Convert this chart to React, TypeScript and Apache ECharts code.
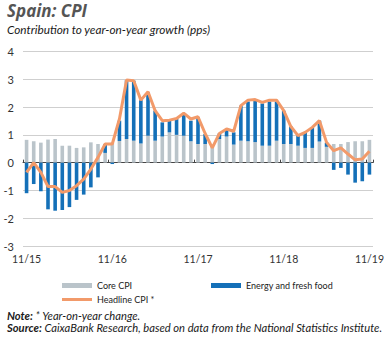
import React, { useEffect, useRef } from "react";
import * as echarts from "echarts";

const months = [
  "11/15","12/15","01/16","02/16","03/16","04/16","05/16","06/16","07/16","08/16","09/16","10/16",
  "11/16","12/16","01/17","02/17","03/17","04/17","05/17","06/17","07/17","08/17","09/17","10/17",
  "11/17","12/17","01/18","02/18","03/18","04/18","05/18","06/18","07/18","08/18","09/18","10/18",
  "11/18","12/18","01/19","02/19","03/19","04/19","05/19","06/19","07/19","08/19","09/19","10/19",
  "11/19",
];

const coreCPI = [
  0.82, 0.77, 0.72, 0.83, 0.85, 0.61, 0.61, 0.53, 0.55, 0.73, 0.67, 0.35,
  0.72, 0.78, 0.85, 0.79, 0.69, 0.97, 0.79, 0.94, 1.09, 1.0, 0.97, 0.77,
  0.67, 0.67, 0.57, 0.85, 0.94, 0.65, 0.79, 0.77, 0.74, 0.61, 0.61, 0.79,
  0.67, 0.67, 0.61, 0.53, 0.53, 0.76, 0.57, 0.67, 0.67, 0.74, 0.77, 0.77,
  0.82,
];

const energyFood = [
  -1.1, -0.77, -1.03, -1.68, -1.73, -1.7, -1.6, -1.34, -1.15, -0.89, -0.53, 0.32,
  -0.05, 0.73, 2.12, 2.16, 1.56, 1.56, 1.08, 0.51, 0.42, 0.57, 0.78, 0.74,
  0.96, 0.36, -0.05, 0.2, 0.27, 0.44, 1.26, 1.43, 1.49, 1.52, 1.59, 1.41,
  1.2, 0.63, 0.39, 0.56, 0.74, 0.75, 0.15, -0.26, -0.19, -0.43, -0.72, -0.67,
  -0.43,
];

const headline = [
  -0.35, 0.0, -0.35, -0.86, -0.86, -1.07, -1.0, -0.83, -0.59, -0.23, 0.19, 0.67,
  0.67, 1.57, 2.97, 2.95, 2.25, 2.55, 1.87, 1.51, 1.53, 1.59, 1.78, 1.57,
  1.65, 1.05, 0.53, 1.05, 1.21, 1.13, 2.05, 2.25, 2.27, 2.17, 2.25, 2.25,
  1.87, 1.3, 0.97, 1.09, 1.27, 1.51, 0.73, 0.43, 0.53, 0.31, 0.1, 0.13,
  0.41,
];

const yMin = -3;
const yMax = 4;

const FONT = "Lato";

export default function App() {
  const ref = useRef<HTMLDivElement>(null);
  useEffect(() => {
    if (!ref.current) return;
    const chart = echarts.init(ref.current, undefined, { renderer: "svg" });
    const labelFmt = (v: string, i: number) => (i % 12 === 0 ? v : "");
    const legendText = { color: "#222", fontSize: 9, fontFamily: FONT };
    chart.setOption({
      animation: false,
      backgroundColor: "#ffffff",
      textStyle: { fontFamily: FONT },
      grid: { left: 23, right: 18, top: 51.5, bottom: 92, containLabel: false },
      xAxis: [
        {
          type: "category",
          data: months,
          boundaryGap: true,
          position: "bottom",
          axisLine: { show: false, onZero: false },
          axisTick: { show: false },
          axisLabel: {
            interval: 11,
            color: "#333",
            fontSize: 10.5,
            fontFamily: FONT,
            margin: 7,
            formatter: labelFmt,
          },
          splitLine: { show: false },
        },
        {
          type: "category",
          data: months,
          boundaryGap: true,
          position: "bottom",
          axisLine: { show: true, onZero: true, lineStyle: { color: "#444", width: 1 } },
          axisTick: { show: true, inside: true, interval: 11, length: 3, lineStyle: { color: "#444" } },
          axisLabel: { show: false },
          splitLine: { show: false },
        },
      ],
      yAxis: {
        type: "value",
        min: yMin,
        max: yMax,
        interval: 1,
        axisLine: { show: false },
        axisTick: { show: false },
        axisLabel: { color: "#333", fontSize: 11, fontFamily: FONT, margin: 9 },
        splitLine: { show: true, lineStyle: { color: "#cfcfcf", width: 1 } },
      },
      legend: [
        {
          data: ["Core CPI"],
          left: 57,
          top: 276,
          itemWidth: 30,
          itemHeight: 5,
          icon: "rect",
          textStyle: legendText,
          selectedMode: false,
        },
        {
          data: ["Energy and fresh food"],
          left: 206,
          top: 276,
          itemWidth: 30,
          itemHeight: 5,
          icon: "rect",
          textStyle: legendText,
          selectedMode: false,
        },
        {
          data: ["Headline CPI *"],
          left: 57,
          top: 290,
          itemWidth: 30,
          itemHeight: 3,
          icon: "rect",
          textStyle: legendText,
          selectedMode: false,
        },
      ],
      graphic: [
        {
          type: "text",
          left: 7,
          top: 2,
          style: {
            text: "Spain: CPI",
            font: `italic bold 17px "Open Sans"`,
            fill: "#555555",
          },
        },
        {
          type: "text",
          left: 7,
          top: 23,
          style: {
            text: "Contribution to year-on-year growth (pps)",
            font: `italic 11.8px ${FONT}`,
            fill: "#1a1a1a",
          },
        },
        {
          type: "text",
          left: 7,
          top: 310,
          style: {
            text: "{b|Note:} * Year-on-year change.",
            font: `italic 11.2px ${FONT}`,
            fill: "#1a1a1a",
            rich: {
              b: { fontWeight: "bold", fontStyle: "italic", fontSize: 11.2, fontFamily: FONT, fill: "#1a1a1a" },
            },
          },
        },
        {
          type: "text",
          left: 7,
          top: 322,
          style: {
            text: "{b|Source:} CaixaBank Research, based on data from the National Statistics Institute.",
            font: `italic 11.2px ${FONT}`,
            fill: "#1a1a1a",
            rich: {
              b: { fontWeight: "bold", fontStyle: "italic", fontSize: 11.2, fontFamily: FONT, fill: "#1a1a1a" },
            },
          },
        },
      ],
      series: [
        {
          name: "Core CPI",
          type: "bar",
          stack: "cpi",
          data: coreCPI,
          barWidth: 3.6,
          itemStyle: { color: "#bac4ca" },
        },
        {
          name: "Energy and fresh food",
          type: "bar",
          stack: "cpi",
          data: energyFood,
          barWidth: 3.6,
          itemStyle: { color: "#1470b8" },
        },
        {
          name: "Headline CPI *",
          type: "line",
          data: headline,
          symbol: "none",
          smooth: false,
          lineStyle: { color: "#f29a6a", width: 3 },
          itemStyle: { color: "#f29a6a" },
          z: 5,
        },
      ],
    });
    return () => chart.dispose();
  }, []);
  return <div ref={ref} style={{ width: 391, height: 338, position: "absolute", left: 0, top: 0 }} />;
}
